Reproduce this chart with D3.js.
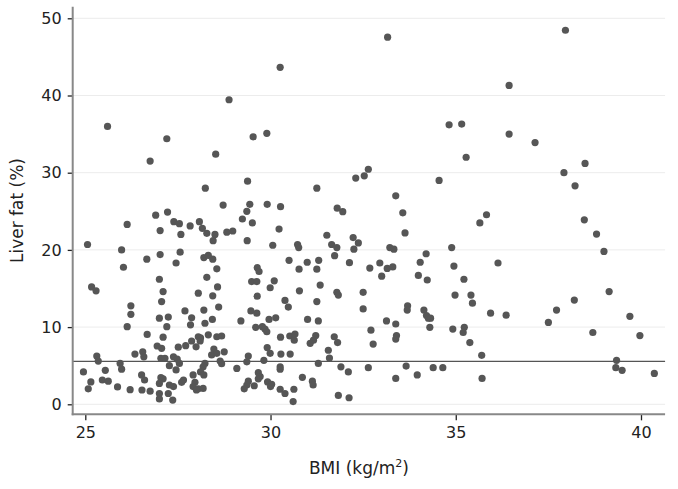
<!DOCTYPE html>
<html>
<head>
<meta charset="utf-8">
<script src="https://cdn.jsdelivr.net/npm/d3@7"></script>
<style>
  html, body { margin: 0; padding: 0; background: #fff; }
  svg { display: block; font-family: "DejaVu Sans", Verdana, sans-serif; }
</style>
</head>
<body>
<svg id="chart" width="678" height="489"></svg>
<script>
const bmi = [
  25.6, 27.2, 30.26, 28.88, 29.53, 29.9, 33.16, 36.44, 34.82, 35.16, 36.44, 37.96, 37.14,
  28.52, 26.75, 28.24, 26.9, 27.22, 26.13, 27.02, 27.39, 27.54, 27.58, 27.83, 28.08, 28.16,
  28.28, 28.5, 28.45, 25.06, 25.98, 26.03, 26.66, 27.02, 27.56, 27.45, 28.2, 28.32, 28.44,
  28.55, 27.0, 28.28,
  29.38, 31.25, 32.53, 28.72, 29.44, 29.36, 29.91, 30.27, 29.24, 29.51, 31.8, 31.95, 30.23,
  28.82, 28.98, 29.37, 30.06, 30.73, 30.76, 31.52, 31.65, 31.79, 32.23, 32.37, 32.25, 31.73,
  32.13, 30.5, 30.99, 31.3, 30.77, 31.25, 29.64, 29.69,
  32.64, 35.28, 34.55, 33.38, 33.57, 33.63, 35.83, 35.65, 33.22, 33.33, 34.89, 34.2, 34.04,
  34.95, 36.14, 32.68, 32.95, 33.15, 33.3, 33.0, 33.99, 34.23, 35.22,
  38.49, 37.92, 38.22, 38.47, 38.8, 39.0,
  24.95, 25.15, 25.08, 25.17, 25.29, 25.31, 25.35, 25.46, 25.62, 25.54, 25.87, 25.94, 25.98,
  26.13, 26.23, 26.23, 26.34, 26.55, 26.58, 26.21, 26.52, 26.6, 26.53, 26.75, 26.67, 27.1,
  27.06, 27.0, 27.24, 27.2, 27.1, 26.94, 27.06, 27.04, 27.15, 27.27, 27.38, 27.48, 27.54,
  27.45, 27.04, 27.1, 27.0, 27.27, 27.38, 27.0, 27.0, 27.24, 27.36, 27.6, 27.65, 27.51,
  27.71, 27.87, 27.99, 28.05, 28.11, 28.1, 28.32, 28.55, 28.47, 28.41, 28.55, 28.23, 28.18,
  28.11, 28.2, 27.91, 27.96, 27.91, 28.05, 28.18, 28.0, 27.69, 27.87, 27.84, 28.05, 28.44,
  28.57, 28.2, 28.23, 28.43, 28.6,
  29.49, 29.63, 30.1, 29.99, 29.64, 30.78, 31.34, 31.79, 31.83, 32.5, 32.5, 31.25, 30.39,
  30.48, 29.47, 29.63, 29.2, 29.96, 30.14, 31.0, 31.29, 29.6, 29.78, 29.85, 29.9, 28.68,
  30.27, 30.52, 30.66, 30.64, 31.22, 31.16, 31.07, 31.72, 31.81, 28.75, 29.91, 29.99, 30.28,
  30.53, 31.56, 31.59, 29.4, 29.36, 28.64, 28.68, 29.82, 29.09, 30.26, 30.26, 31.29, 31.9,
  32.1, 29.67, 29.72, 29.4, 29.36, 29.29, 29.56, 29.67, 29.92, 30.03, 30.0, 30.26, 30.39,
  30.63, 30.61, 30.86, 31.13, 31.15, 31.83, 32.12,
  34.98, 35.41, 35.45, 33.7, 33.69, 34.14, 34.21, 34.26, 34.32, 35.94, 36.36, 33.13, 33.38,
  34.3, 34.92, 35.23, 35.2, 32.71, 33.4, 33.38, 35.38, 32.77, 35.7, 32.64, 33.66, 34.39,
  34.65, 33.38, 33.96, 35.71,
  37.5, 37.72, 38.2, 39.14, 39.7, 38.7, 39.97, 39.34, 39.32, 39.49, 40.36,
  32.3
];
const liverFat = [
  36.0, 34.4, 43.65, 39.45, 34.65, 35.1, 47.55, 41.3, 36.2, 36.3, 35.0, 48.45, 33.9,
  32.4, 31.5, 28.0, 24.5, 24.9, 23.3, 22.5, 23.65, 23.4, 22.0, 23.1, 23.65, 22.8,
  22.15, 22.0, 21.2, 20.7, 20.0, 17.75, 18.8, 19.4, 19.7, 18.3, 19.0, 19.3, 18.8,
  17.55, 16.2, 16.45,
  28.9, 28.0, 29.6, 25.8, 25.9, 25.0, 25.9, 25.6, 24.0, 23.5, 25.4, 24.95, 22.7,
  22.3, 22.45, 21.2, 20.6, 20.7, 20.3, 21.9, 20.7, 20.3, 21.6, 20.9, 20.1, 19.25,
  18.35, 18.65, 18.4, 18.65, 17.5, 17.5, 17.7, 17.2,
  30.45, 32.0, 29.0, 27.0, 24.8, 22.2, 24.55, 23.5, 20.3, 20.1, 20.3, 19.5, 18.4,
  17.9, 18.3, 17.65, 18.3, 17.6, 17.8, 16.6, 16.7, 16.1, 16.2,
  31.2, 30.0, 28.3, 23.9, 22.05, 19.8,
  4.2, 2.9, 2.0, 15.2, 14.7, 6.25, 5.6, 3.15, 3.0, 4.4, 2.25, 5.3, 4.55,
  10.05, 11.65, 12.75, 6.5, 6.8, 6.15, 1.9, 3.8, 3.15, 1.85, 1.7, 9.05, 14.6,
  13.3, 11.15, 11.3, 10.05, 8.7, 7.55, 7.25, 5.95, 5.95, 5.0, 6.15, 5.85, 5.3,
  4.45, 3.45, 3.3, 2.7, 2.5, 2.3, 1.4, 0.7, 1.4, 0.55, 2.85, 3.15, 7.4,
  7.6, 8.2, 7.45, 8.75, 8.6, 8.2, 9.0, 8.75, 7.15, 6.4, 6.6, 5.3, 4.85,
  4.2, 3.8, 3.8, 2.85, 2.3, 2.0, 2.05, 1.85, 12.1, 11.2, 10.3, 14.4, 14.05,
  15.2, 12.2, 10.5, 11.0, 12.6,
  15.9, 15.9, 16.0, 15.1, 14.0, 14.7, 15.45, 14.5, 14.15, 14.5, 12.35, 13.3, 13.45,
  12.6, 12.1, 11.8, 10.8, 11.0, 11.2, 11.0, 10.8, 9.97, 10.05, 9.75, 9.4, 8.85,
  8.7, 8.85, 9.1, 8.3, 8.9, 8.3, 7.9, 8.75, 8.0, 6.8, 7.35, 6.6, 6.5,
  6.5, 7.0, 6.0, 6.25, 5.5, 5.6, 5.25, 5.7, 4.65, 4.85, 4.55, 5.3, 4.85,
  4.2, 4.1, 3.6, 3.0, 2.5, 2.0, 2.4, 3.3, 2.9, 2.6, 2.3, 1.95, 1.4,
  1.95, 0.35, 3.5, 3.0, 2.5, 1.15, 0.85,
  14.15, 14.15, 13.1, 12.75, 12.2, 12.2, 11.5, 11.15, 11.15, 11.8, 11.55, 10.8, 10.4,
  9.97, 9.75, 9.97, 9.3, 9.6, 8.9, 8.45, 8.0, 7.8, 6.35, 4.75, 4.95, 4.75,
  4.75, 3.35, 3.8, 3.35,
  10.6, 12.2, 13.5, 14.6, 11.4, 9.3, 8.9, 5.7, 4.75, 4.4, 4.0,
  29.3
];
const xTicks = [25, 30, 35, 40];
const yTicks = [0, 10, 20, 30, 40, 50];
const threshold = 5.56;
const xDomainExt = [24.66, 40.65];
const yDomainExt = [-1.3, 51.5];
const xTitle = "BMI (kg/m";
const yTitle = "Liver fat (%)";

const points = bmi.map((b, i) => ({ x: b, y: liverFat[i] }));

const svg = d3.select("#chart");
const x = d3.scaleLinear().domain([25, 40]).range([85.3, 641]);
const y = d3.scaleLinear().domain([0, 50]).range([404.3, 18.3]);

// gridlines
svg.append("g").selectAll("line").data(yTicks).join("line")
  .attr("x1", x(xDomainExt[0])).attr("x2", x(xDomainExt[1]))
  .attr("y1", d => y(d)).attr("y2", d => y(d))
  .attr("stroke", "#ececec").attr("stroke-width", 1);

// reference line
svg.append("line")
  .attr("x1", x(xDomainExt[0])).attr("x2", x(xDomainExt[1]))
  .attr("y1", y(threshold)).attr("y2", y(threshold))
  .attr("stroke", "#555").attr("stroke-width", 1.2);

// points
svg.append("g").selectAll("circle").data(points).join("circle")
  .attr("cx", d => x(d.x)).attr("cy", d => y(d.y)).attr("r", 3.6)
  .attr("fill", "#565656");

// x axis
const xAxisY = y(yDomainExt[0]);
const gx = svg.append("g").attr("transform", `translate(0,${xAxisY})`)
  .call(d3.axisBottom(x).tickValues(xTicks).tickSize(6).tickSizeOuter(0).tickPadding(6));
gx.select(".domain").remove();
gx.selectAll(".tick line").attr("stroke", "#222").attr("stroke-width", 1.3);
gx.selectAll(".tick text").attr("font-size", 16).attr("fill", "#222")
  .attr("font-family", "DejaVu Sans, Verdana, sans-serif");
svg.append("line")
  .attr("x1", x(xDomainExt[0]) - 1).attr("x2", x(xDomainExt[1]))
  .attr("y1", xAxisY).attr("y2", xAxisY)
  .attr("stroke", "#888").attr("stroke-width", 2);

// y axis
const yAxisX = x(xDomainExt[0]);
const gy = svg.append("g").attr("transform", `translate(${yAxisX},0)`)
  .call(d3.axisLeft(y).tickValues(yTicks).tickSize(5).tickSizeOuter(0).tickPadding(6));
gy.select(".domain").remove();
gy.selectAll(".tick line").attr("stroke", "#222").attr("stroke-width", 1.3);
gy.selectAll(".tick text").attr("font-size", 16).attr("fill", "#222")
  .attr("font-family", "DejaVu Sans, Verdana, sans-serif");
svg.append("line")
  .attr("x1", yAxisX).attr("x2", yAxisX)
  .attr("y1", y(yDomainExt[1])).attr("y2", xAxisY + 1)
  .attr("stroke", "#888").attr("stroke-width", 2);

// titles
const xt = svg.append("text")
  .attr("x", (x(xDomainExt[0]) + x(xDomainExt[1])) / 2 - 10).attr("y", 474)
  .attr("text-anchor", "middle").attr("font-size", 17).attr("fill", "#222");
xt.append("tspan").text(xTitle);
xt.append("tspan").attr("font-size", 11).attr("dy", -7).text("2");
xt.append("tspan").attr("dy", 7).text(")");

svg.append("text")
  .attr("transform", `translate(23,${(y(yDomainExt[1]) + xAxisY) / 2}) rotate(-90)`)
  .attr("text-anchor", "middle").attr("font-size", 17).attr("fill", "#222")
  .text(yTitle);
</script>
</body>
</html>
